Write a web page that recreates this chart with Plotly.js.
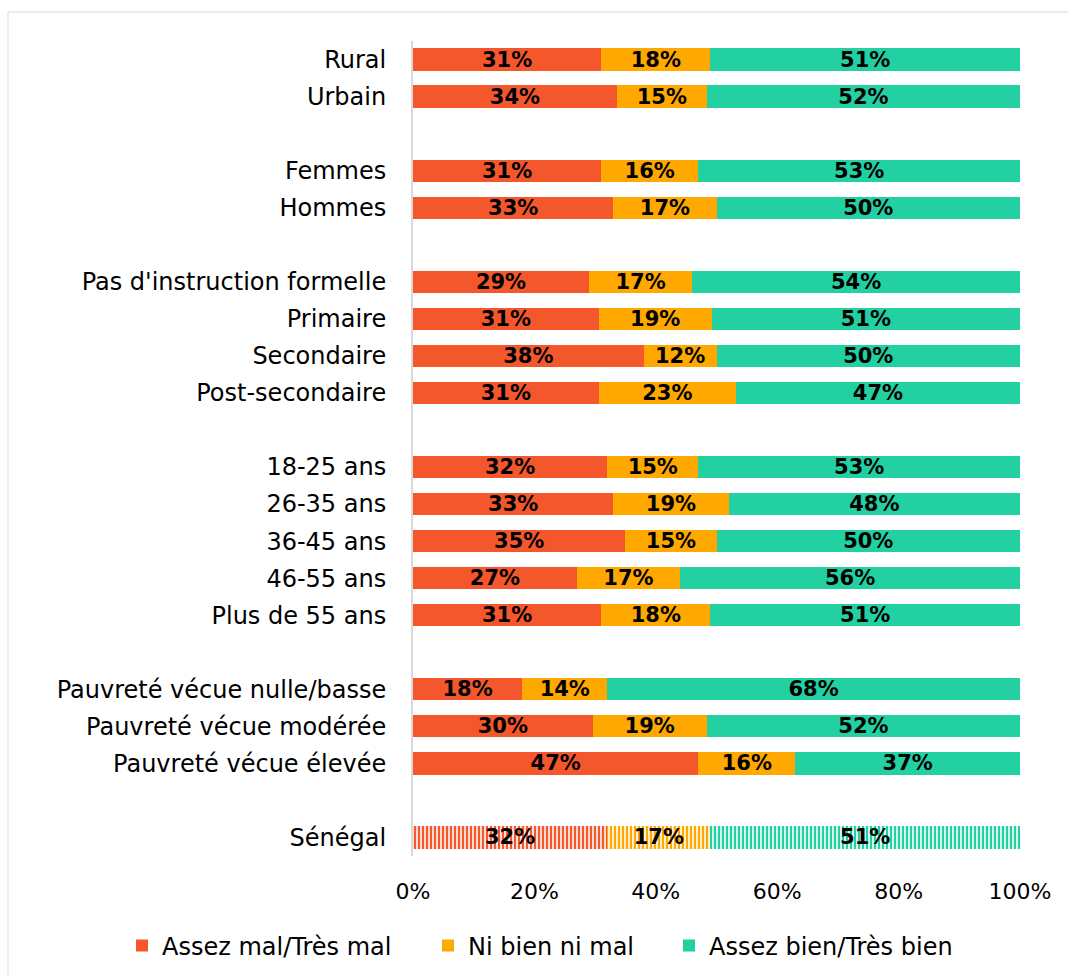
<!DOCTYPE html>
<html>
<head>
<meta charset="utf-8">
<script src="https://cdn.plot.ly/plotly-3.0.1.min.js"></script>
<style>html,body{margin:0;padding:0;background:#fff;}#chart{width:1068px;height:976px;}</style>
</head>
<body>
<div id="chart"></div>
<script>
// Groups of categories (a blank slot is left between groups)
const groups = [
  ["Rural", "Urbain"],
  ["Femmes", "Hommes"],
  ["Pas d'instruction formelle", "Primaire", "Secondaire", "Post-secondaire"],
  ["18-25 ans", "26-35 ans", "36-45 ans", "46-55 ans", "Plus de 55 ans"],
  ["Pauvreté vécue nulle/basse", "Pauvreté vécue modérée", "Pauvreté vécue élevée"],
  ["Sénégal"]
];
const categories = groups.flat();
const mal   = [31, 33.6, 31, 33, 29, 30.6, 38, 30.6, 32, 33, 35, 27, 31, 18, 29.6, 47, 32];
const ni    = [18, 14.8, 16, 17, 17, 18.6, 12, 22.6, 15, 19, 15, 17, 18, 14, 18.8, 16, 17];
const bien  = [51, 51.6, 53, 50, 54, 50.8, 50, 46.8, 53, 48, 50, 56, 51, 68, 51.6, 37, 51];
const seriesNames = ["Assez mal/Très mal", "Ni bien ni mal", "Assez bien/Très bien"];
const seriesColors = ["#F4572C", "#FFA800", "#22D0A1"];
const xTicks = [0, 20, 40, 60, 80, 100];

// slot positions
const pos = [];
let slot = 0;
groups.forEach((g, gi) => {
  g.forEach(() => { pos.push(slot); slot++; });
  if (gi < groups.length - 1) slot++;
});
const nSlots = slot;
const lastIdx = categories.length - 1;

const font = "'DejaVu Sans', sans-serif";
const legendIds = ['legend', 'legend2', 'legend3'];
const allVals = [mal, ni, bien];
const traces = [];
allVals.forEach((vals, si) => {
  traces.push({
    type: 'bar', orientation: 'h',
    x: vals.slice(0, lastIdx), y: pos.slice(0, lastIdx),
    name: seriesNames[si], legendgroup: 's' + si, legend: legendIds[si],
    marker: {color: seriesColors[si], line: {width: 0}},
    width: 0.6,
    texttemplate: '%{x:.0f}%', textposition: 'inside', insidetextanchor: 'middle',
    textfont: {family: font, size: 21, color: '#000', weight: 'bold'},
    constraintext: 'none', hoverinfo: 'skip'
  });
  traces.push({
    type: 'bar', orientation: 'h',
    x: [vals[lastIdx]], y: [pos[lastIdx]],
    name: seriesNames[si], legendgroup: 's' + si, legend: legendIds[si], showlegend: false,
    marker: {color: '#ffffff', line: {width: 0},
      pattern: {shape: '|', fgcolor: seriesColors[si], bgcolor: '#ffffff', fgopacity: 1,
        size: 4, solidity: 0.6, fillmode: 'replace'}},
    width: 0.6,
    texttemplate: '%{x:.0f}%', textposition: 'inside', insidetextanchor: 'middle',
    textfont: {family: font, size: 21, color: '#000', weight: 'bold'},
    constraintext: 'none', hoverinfo: 'skip'
  });
});

const W = 1068, H = 976;
const L = 413, R = 48, T = 41, B = 120;
const pw = W - L - R, ph = H - T - B;
const px2x = p => (p - L) / pw;
const py2y = p => (H - B - p) / ph;

const legendBase = lx => ({orientation: 'h', x: px2x(lx), xanchor: 'left', y: py2y(946), yanchor: 'middle',
  font: {family: font, size: 24, color: '#000'}, itemwidth: 30, bgcolor: 'rgba(0,0,0,0)'});

const layout = {
  width: W, height: H,
  margin: {l: L, r: R, t: T, b: B, autoexpand: false},
  barmode: 'stack',
  paper_bgcolor: '#fff', plot_bgcolor: '#fff',
  font: {family: font, size: 20, color: '#000'},
  showlegend: true,
  legend: legendBase(122),
  legend2: legendBase(428),
  legend3: legendBase(669),
  xaxis: {range: [0, 100], tickvals: xTicks, ticktext: xTicks.map(v => v + '%'),
    showgrid: false, zeroline: false, showline: false, ticks: '',
    ticklabelstandoff: 20, tickfont: {family: font, size: 22, color: '#000'}, fixedrange: true},
  yaxis: {range: [nSlots - 0.5, -0.5], tickvals: pos, ticktext: categories,
    showgrid: false, zeroline: false, showline: true, linecolor: '#d9d9d9', linewidth: 2,
    ticks: '', ticklabelstandoff: 20, tickfont: {family: font, size: 24, color: '#000'}, fixedrange: true},
  shapes: [{type: 'rect', xref: 'paper', yref: 'paper',
    x0: px2x(8), x1: px2x(1080), y0: py2y(990), y1: py2y(12),
    line: {color: '#d9d9d9', width: 1}, fillcolor: 'rgba(0,0,0,0)', layer: 'below'}]
};

Plotly.newPlot('chart', traces, layout, {displayModeBar: false, staticPlot: true});
</script>
</body>
</html>
